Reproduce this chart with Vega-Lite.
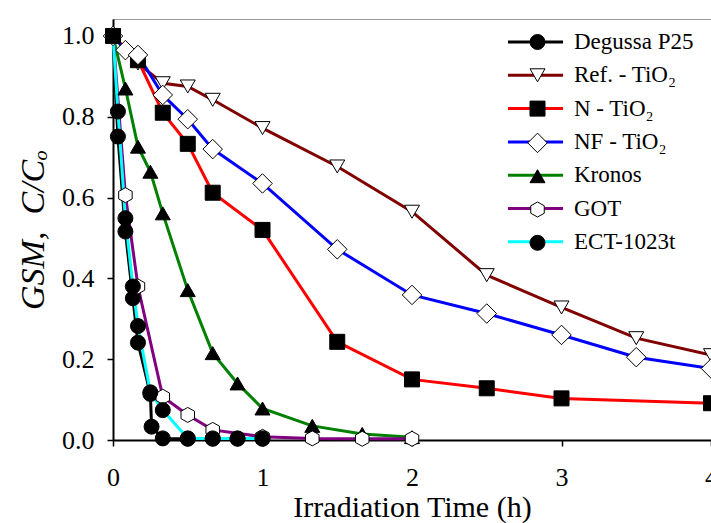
{
  "$schema": "https://vega.github.io/schema/vega-lite/v6.json",
  "width": 598,
  "height": 421,
  "autosize": {"type": "none"},
  "padding": {"left": 113, "top": 19, "right": 0, "bottom": 83},
  "background": "white",
  "config": {
    "view": {"stroke": "#999999", "strokeWidth": 1},
    "font": "Liberation Serif"
  },
  "data": {"values": [
    {"sample": "Degussa P25", "time": 0, "ratio": 1.0},
    {"sample": "Degussa P25", "time": 0.033, "ratio": 0.751},
    {"sample": "Degussa P25", "time": 0.083, "ratio": 0.516},
    {"sample": "Degussa P25", "time": 0.133, "ratio": 0.351},
    {"sample": "Degussa P25", "time": 0.167, "ratio": 0.241},
    {"sample": "Degussa P25", "time": 0.25, "ratio": 0.114},
    {"sample": "Degussa P25", "time": 0.258, "ratio": 0.033},
    {"sample": "Degussa P25", "time": 0.333, "ratio": 0.004},
    {"sample": "Degussa P25", "time": 0.5, "ratio": 0.003},
    {"sample": "Degussa P25", "time": 0.667, "ratio": 0.003},
    {"sample": "Degussa P25", "time": 0.833, "ratio": 0.003},
    {"sample": "Degussa P25", "time": 1.0, "ratio": 0.003},
    {"sample": "Ref. - TiO₂", "time": 0, "ratio": 1.0},
    {"sample": "Ref. - TiO₂", "time": 0.167, "ratio": 0.932},
    {"sample": "Ref. - TiO₂", "time": 0.333, "ratio": 0.883},
    {"sample": "Ref. - TiO₂", "time": 0.5, "ratio": 0.875},
    {"sample": "Ref. - TiO₂", "time": 0.667, "ratio": 0.842},
    {"sample": "Ref. - TiO₂", "time": 1.0, "ratio": 0.772},
    {"sample": "Ref. - TiO₂", "time": 1.5, "ratio": 0.677},
    {"sample": "Ref. - TiO₂", "time": 2.0, "ratio": 0.565},
    {"sample": "Ref. - TiO₂", "time": 2.5, "ratio": 0.408},
    {"sample": "Ref. - TiO₂", "time": 3.0, "ratio": 0.328},
    {"sample": "Ref. - TiO₂", "time": 3.5, "ratio": 0.252},
    {"sample": "Ref. - TiO₂", "time": 4.0, "ratio": 0.21},
    {"sample": "N - TiO₂", "time": 0, "ratio": 1.0},
    {"sample": "N - TiO₂", "time": 0.167, "ratio": 0.94},
    {"sample": "N - TiO₂", "time": 0.333, "ratio": 0.81},
    {"sample": "N - TiO₂", "time": 0.5, "ratio": 0.733},
    {"sample": "N - TiO₂", "time": 0.667, "ratio": 0.612},
    {"sample": "N - TiO₂", "time": 1.0, "ratio": 0.52},
    {"sample": "N - TiO₂", "time": 1.5, "ratio": 0.243},
    {"sample": "N - TiO₂", "time": 2.0, "ratio": 0.15},
    {"sample": "N - TiO₂", "time": 2.5, "ratio": 0.128},
    {"sample": "N - TiO₂", "time": 3.0, "ratio": 0.103},
    {"sample": "N - TiO₂", "time": 4.0, "ratio": 0.091},
    {"sample": "NF - TiO₂", "time": 0, "ratio": 1.0},
    {"sample": "NF - TiO₂", "time": 0.083, "ratio": 0.965},
    {"sample": "NF - TiO₂", "time": 0.167, "ratio": 0.953},
    {"sample": "NF - TiO₂", "time": 0.333, "ratio": 0.854},
    {"sample": "NF - TiO₂", "time": 0.5, "ratio": 0.794},
    {"sample": "NF - TiO₂", "time": 0.667, "ratio": 0.72},
    {"sample": "NF - TiO₂", "time": 1.0, "ratio": 0.635},
    {"sample": "NF - TiO₂", "time": 1.5, "ratio": 0.472},
    {"sample": "NF - TiO₂", "time": 2.0, "ratio": 0.359},
    {"sample": "NF - TiO₂", "time": 2.5, "ratio": 0.313},
    {"sample": "NF - TiO₂", "time": 3.0, "ratio": 0.26},
    {"sample": "NF - TiO₂", "time": 3.5, "ratio": 0.205},
    {"sample": "NF - TiO₂", "time": 4.0, "ratio": 0.177},
    {"sample": "Kronos", "time": 0, "ratio": 1.0},
    {"sample": "Kronos", "time": 0.083, "ratio": 0.87},
    {"sample": "Kronos", "time": 0.167, "ratio": 0.726},
    {"sample": "Kronos", "time": 0.25, "ratio": 0.664},
    {"sample": "Kronos", "time": 0.333, "ratio": 0.561},
    {"sample": "Kronos", "time": 0.5, "ratio": 0.371},
    {"sample": "Kronos", "time": 0.667, "ratio": 0.215},
    {"sample": "Kronos", "time": 0.833, "ratio": 0.14},
    {"sample": "Kronos", "time": 1.0, "ratio": 0.078},
    {"sample": "Kronos", "time": 1.333, "ratio": 0.035},
    {"sample": "Kronos", "time": 1.667, "ratio": 0.015},
    {"sample": "Kronos", "time": 2.0, "ratio": 0.007},
    {"sample": "GOT", "time": 0, "ratio": 1.0},
    {"sample": "GOT", "time": 0.083, "ratio": 0.606},
    {"sample": "GOT", "time": 0.167, "ratio": 0.38},
    {"sample": "GOT", "time": 0.333, "ratio": 0.107},
    {"sample": "GOT", "time": 0.5, "ratio": 0.062},
    {"sample": "GOT", "time": 0.667, "ratio": 0.025},
    {"sample": "GOT", "time": 1.0, "ratio": 0.008},
    {"sample": "GOT", "time": 1.333, "ratio": 0.004},
    {"sample": "GOT", "time": 1.667, "ratio": 0.003},
    {"sample": "GOT", "time": 2.0, "ratio": 0.003},
    {"sample": "ECT-1023t", "time": 0, "ratio": 1.0},
    {"sample": "ECT-1023t", "time": 0.033, "ratio": 0.813},
    {"sample": "ECT-1023t", "time": 0.083, "ratio": 0.549},
    {"sample": "ECT-1023t", "time": 0.133, "ratio": 0.38},
    {"sample": "ECT-1023t", "time": 0.167, "ratio": 0.282},
    {"sample": "ECT-1023t", "time": 0.25, "ratio": 0.118},
    {"sample": "ECT-1023t", "time": 0.333, "ratio": 0.074},
    {"sample": "ECT-1023t", "time": 0.5, "ratio": 0.004},
    {"sample": "ECT-1023t", "time": 0.667, "ratio": 0.004},
    {"sample": "ECT-1023t", "time": 0.833, "ratio": 0.004},
    {"sample": "ECT-1023t", "time": 1.0, "ratio": 0.004}
  ]},
  "encoding": {
    "x": {
      "field": "time", "type": "quantitative",
      "scale": {"domain": [0, 4], "nice": false},
      "axis": {
        "title": "Irradiation Time (h)", "values": [0, 1, 2, 3, 4], "format": "d",
        "grid": false, "domainColor": "black", "domainWidth": 2, "tickColor": "black", "tickWidth": 1.5, "tickSize": 6,
        "labelFont": "Liberation Serif", "labelFontSize": 26, "labelColor": "black", "labelPadding": 18, "labelFlush": false,
        "titleFont": "Liberation Serif", "titleFontSize": 30, "titleFontWeight": "normal", "titleColor": "black", "titlePadding": 2
      }
    },
    "y": {
      "field": "ratio", "type": "quantitative",
      "scale": {"domain": [0, 1.042], "nice": false, "zero": false},
      "axis": {
        "title": "GSM,\u00a0\u00a0C/Cₒ", "values": [0, 0.2, 0.4, 0.6, 0.8, 1.0], "format": ".1f",
        "grid": false, "domainColor": "black", "domainWidth": 2, "tickColor": "black", "tickWidth": 1.5, "tickSize": 6,
        "labelFont": "Liberation Serif", "labelFontSize": 26, "labelColor": "black", "labelPadding": 13, "labelFlush": false,
        "titleFont": "Liberation Serif", "titleFontSize": 34, "titleFontStyle": "italic", "titleFontWeight": "normal", "titleColor": "black", "titlePadding": 11
      }
    }
  },
  "layer": [
    {
      "mark": {"type": "line", "strokeWidth": 3},
      "encoding": {
        "color": {
          "field": "sample", "type": "nominal",
          "sort": ["Degussa P25", "Ref. - TiO₂", "N - TiO₂", "NF - TiO₂", "Kronos", "GOT", "ECT-1023t"],
          "scale": {"range": ["#000000", "#800000", "#ff0000", "#0000ff", "#008000", "#800080", "#00ffff"]},
          "legend": {
            "orient": "none", "legendX": 411, "legendY": 11.5, "title": null, "padding": 0,
            "symbolType": "M-2.9,0H2.9", "symbolSize": 361, "symbolStrokeWidth": 3,
            "labelFont": "Liberation Serif", "labelFontSize": 23, "labelColor": "black", "labelOffset": 27, "labelLimit": 300,
            "rowPadding": 9.3
          }
        }
      }
    },
    {
      "mark": {"type": "point", "filled": true, "strokeWidth": 1, "size": 225, "opacity": 1},
      "encoding": {
        "shape": {
          "field": "sample", "type": "nominal",
          "scale": {
            "domain": ["Degussa P25", "Ref. - TiO₂", "N - TiO₂", "NF - TiO₂", "Kronos", "GOT", "ECT-1023t"],
            "range": ["circle", "triangle-down", "square", "M0,-1.3L1.3,0L0,1.3L-1.3,0Z", "triangle-up", "M0,-1L0.9,-0.5L0.9,0.5L0,1L-0.9,0.5L-0.9,-0.5Z", "circle"]
          },
          "legend": {
            "orient": "none", "legendX": 413, "legendY": 11.5, "title": null, "padding": 0,
            "symbolSize": 225, "symbolStrokeWidth": 1,
            "labelFont": "Liberation Serif", "labelFontSize": 23, "labelOpacity": 0, "labelLimit": 300, "labelExpr": "' '",
            "rowPadding": 9.3
          }
        },
        "fill": {
          "field": "sample", "type": "nominal",
          "scale": {
            "domain": ["Degussa P25", "Ref. - TiO₂", "N - TiO₂", "NF - TiO₂", "Kronos", "GOT", "ECT-1023t"],
            "range": ["#000000", "#ffffff", "#000000", "#ffffff", "#000000", "#ffffff", "#000000"]
          },
          "legend": {
            "orient": "none", "legendX": 413, "legendY": 11.5, "title": null, "padding": 0,
            "symbolSize": 225, "symbolStrokeWidth": 1,
            "labelFont": "Liberation Serif", "labelFontSize": 23, "labelOpacity": 0, "labelLimit": 300, "labelExpr": "' '",
            "rowPadding": 9.3
          }
        },
        "stroke": {
          "field": "sample", "type": "nominal",
          "scale": {
            "domain": ["Degussa P25", "Ref. - TiO₂", "N - TiO₂", "NF - TiO₂", "Kronos", "GOT", "ECT-1023t"],
            "range": ["#000000", "#000000", "#000000", "#000000", "#000000", "#000000", "#000000"]
          },
          "legend": {
            "orient": "none", "legendX": 413, "legendY": 11.5, "title": null, "padding": 0,
            "symbolSize": 225, "symbolStrokeWidth": 1,
            "labelFont": "Liberation Serif", "labelFontSize": 23, "labelOpacity": 0, "labelLimit": 300, "labelExpr": "' '",
            "rowPadding": 9.3
          }
        }
      }
    }
  ]
}
